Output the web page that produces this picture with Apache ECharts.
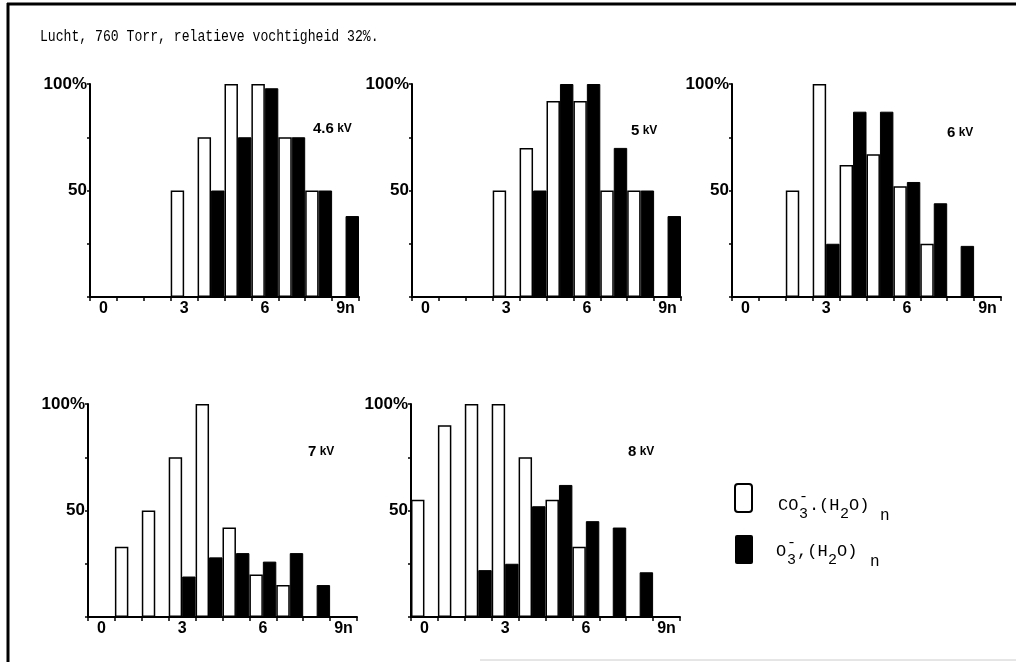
<!DOCTYPE html>
<html>
<head>
<meta charset="utf-8">
<script src="https://cdn.jsdelivr.net/npm/echarts@6/dist/echarts.min.js"></script>
<style>
  html, body { margin: 0; padding: 0; background: #fff; }
  #chartmain { width: 1016px; height: 662px; }
</style>
</head>
<body>
<div id="chartmain"></div>
<script>
// cluster size n
var nLabels = ['0', '1', '2', '3', '4', '5', '6', '7', '8', '9n'];
var kvLabels = ['4.6', '5', '6', '7', '8'];

// CO3-.(H2O)n  (open bars), relative intensity %
var co3_46 = [0, 0, 0, 50, 75, 100, 100, 75, 50, 0];
var co3_5  = [0, 0, 0, 50, 70, 92, 92, 50, 50, 0];
var co3_6  = [0, 0, 50, 100, 62, 67, 52, 25, 0, 0];
var co3_7  = [0, 33, 50, 75, 100, 42, 20, 15, 0, 0];
var co3_8  = [55, 90, 100, 100, 75, 55, 33, 0, 0, 0];

// O3-.(H2O)n  (filled bars)
var o3_46 = [0, 0, 0, 0, 50, 75, 98, 75, 50, 38];
var o3_5  = [0, 0, 0, 0, 50, 100, 100, 70, 50, 38];
var o3_6  = [0, 0, 0, 25, 87, 87, 54, 44, 24, 0];
var o3_7  = [0, 0, 0, 19, 28, 30, 26, 30, 15, 0];
var o3_8  = [0, 0, 22, 25, 52, 62, 45, 42, 21, 0];

var co3All = [co3_46, co3_5, co3_6, co3_7, co3_8];
var o3All = [o3_46, o3_5, o3_6, o3_7, o3_8];

// plaatsing van de vijf deelgrafieken
var gridPos = [[90, 84], [412, 84], [732, 84], [88, 404], [411, 404]];
var kvPos = [[313, 130], [631, 132], [947, 134], [308, 453], [628, 453]];

var sansFont = '"Liberation Sans", Arial, sans-serif';
var monoFont = '"Liberation Mono", "DejaVu Sans Mono", monospace';

var grids = [], xAxes = [], yAxes = [], series = [], graphics = [];

for (var i = 0; i < 5; i++) {
  grids.push({ left: gridPos[i][0], top: gridPos[i][1], width: 269, height: 213 });
  xAxes.push({
    type: 'category', gridIndex: i, data: nLabels,
    axisLine: { lineStyle: { color: '#000', width: 2 } },
    axisTick: { show: true, length: 4, lineStyle: { color: '#000', width: 1.5 } },
    axisLabel: {
      interval: 0, margin: 4, color: '#000', fontFamily: sansFont, fontWeight: 'bold', fontSize: 16,
      formatter: function (v, idx) { return idx % 3 === 0 ? v : ''; }
    },
    splitLine: { show: false }
  });
  yAxes.push({
    type: 'value', gridIndex: i, min: 0, max: 100, interval: 25,
    axisLine: { show: true, lineStyle: { color: '#000', width: 2 } },
    axisTick: { show: true, length: 3, lineStyle: { color: '#000', width: 1.5 } },
    axisLabel: {
      margin: 3, color: '#000', fontFamily: sansFont, fontWeight: 'bold', fontSize: 17,
      formatter: function (v) { return v === 100 ? '100%' : (v === 50 ? '50' : ''); }
    },
    splitLine: { show: false }
  });
  series.push({
    name: 'CO3', type: 'bar', xAxisIndex: i, yAxisIndex: i, data: co3All[i],
    barGap: '0%', barCategoryGap: '0%', silent: true,
    itemStyle: { color: '#fff', borderColor: '#000', borderWidth: 1.5 }
  });
  series.push({
    name: 'O3', type: 'bar', xAxisIndex: i, yAxisIndex: i, data: o3All[i],
    barGap: '0%', barCategoryGap: '0%', silent: true,
    itemStyle: { color: '#000', borderColor: '#000', borderWidth: 1 }
  });
  graphics.push({
    type: 'text', left: kvPos[i][0], top: kvPos[i][1] - 9,
    style: {
      text: '{a|' + kvLabels[i] + '} {b|kV}',
      rich: {
        a: { fontFamily: sansFont, fontWeight: 'bold', fontSize: 15, fill: '#000' },
        b: { fontFamily: sansFont, fontWeight: 'bold', fontSize: 12, fill: '#000' }
      }
    }
  });
}

// titel (typemachineletter, smaller gezet)
graphics.push({
  type: 'text', x: 40, y: 37, scaleX: 0.82, scaleY: 1,
  style: { text: 'Lucht, 760 Torr, relatieve vochtigheid 32%.', font: '16px ' + monoFont, fill: '#000', textVerticalAlign: 'middle' }
});

// kader
graphics.push({ type: 'line', shape: { x1: 7, y1: 4, x2: 1016, y2: 4 }, style: { stroke: '#000', lineWidth: 3 } });
graphics.push({ type: 'line', shape: { x1: 8, y1: 3, x2: 8, y2: 662 }, style: { stroke: '#000', lineWidth: 3 } });
graphics.push({ type: 'line', shape: { x1: 480, y1: 660, x2: 1016, y2: 660 }, style: { stroke: '#ccc', lineWidth: 1 } });

// legenda
graphics.push({ type: 'rect', shape: { x: 735, y: 484, width: 17, height: 28, r: 3 }, style: { fill: '#fff', stroke: '#000', lineWidth: 2 } });
graphics.push({ type: 'rect', shape: { x: 735, y: 535, width: 18, height: 29, r: 2 }, style: { fill: '#000' } });

function legendPart(txt, x, y, size) {
  graphics.push({
    type: 'text', x: x, y: y,
    style: { text: txt, font: size + 'px ' + monoFont, fill: '#000', textVerticalAlign: 'middle' }
  });
}
// CO3-.(H2O)n
legendPart('CO', 778, 505, 17);
legendPart('3', 799, 514, 15);
legendPart('-', 799, 497, 15);
legendPart('.', 809, 505, 17);
legendPart('(H', 819, 505, 17);
legendPart('2', 840, 514, 15);
legendPart('O)', 849, 505, 17);
legendPart('n', 880, 516, 16);
// O3-,(H2O)n
legendPart('O', 776, 551, 17);
legendPart('3', 787, 560, 15);
legendPart('-', 787, 543, 15);
legendPart(',(H', 797, 551, 17);
legendPart('2', 828, 560, 15);
legendPart('O)', 837, 551, 17);
legendPart('n', 870, 562, 16);

var myChart = echarts.init(document.getElementById('chartmain'));
myChart.setOption({
  backgroundColor: '#fff',
  animation: false,
  grid: grids,
  xAxis: xAxes,
  yAxis: yAxes,
  series: series,
  graphic: graphics
});
</script>
</body>
</html>
